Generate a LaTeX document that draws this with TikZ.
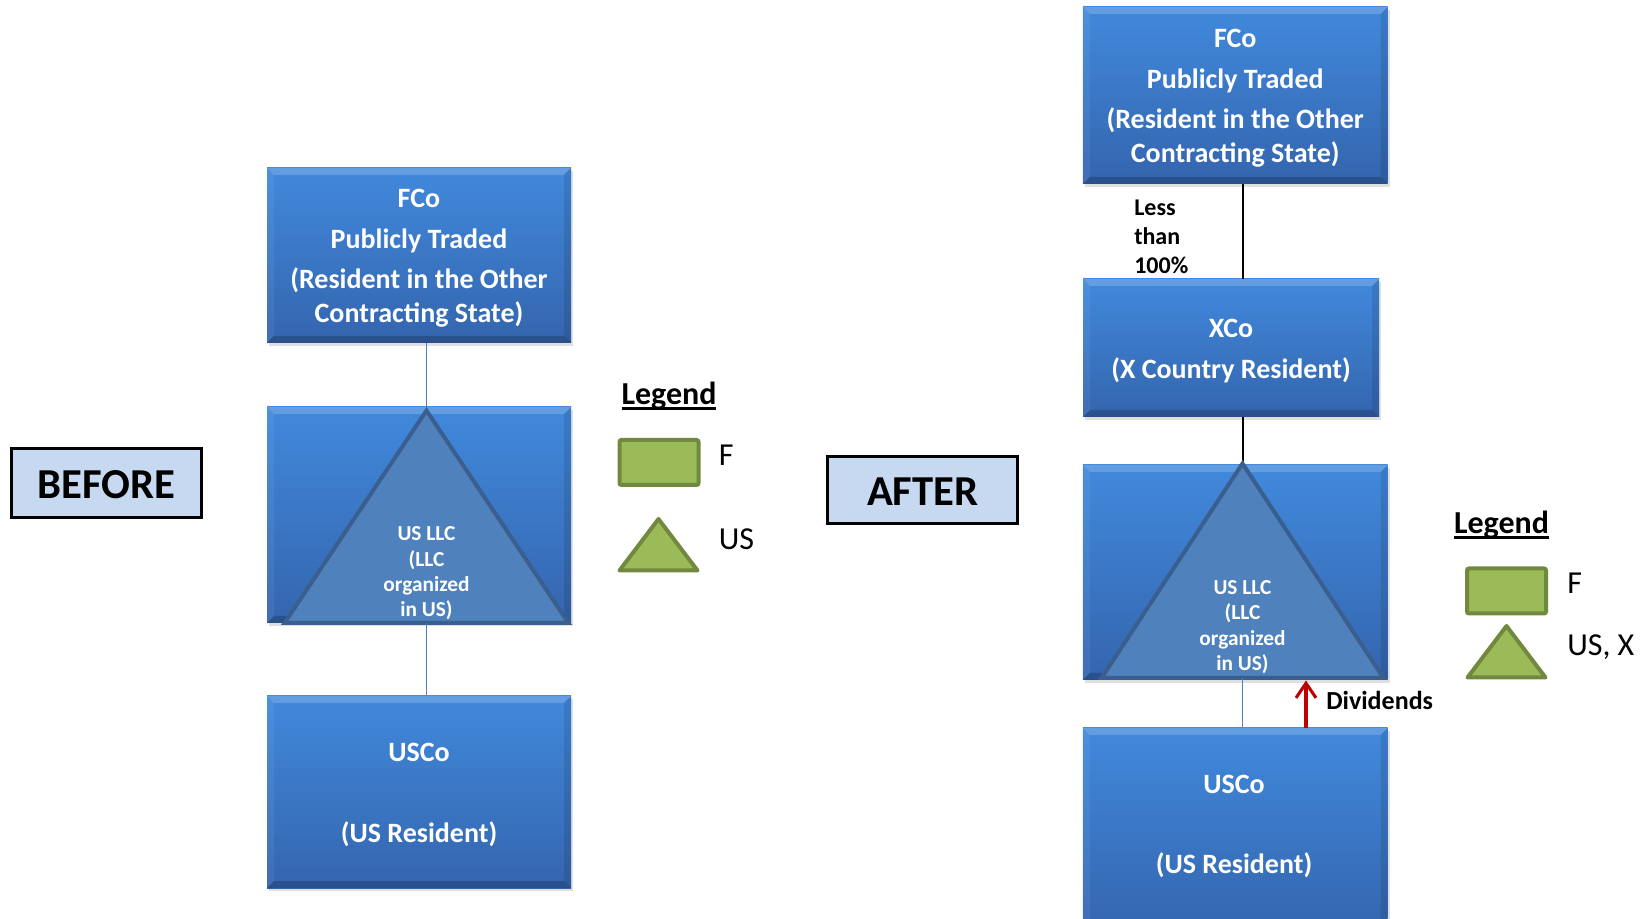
\documentclass[tikz,border=0pt]{standalone}
\usepackage{fontspec}
\setmainfont{Carlito}
\usetikzlibrary{shadows,arrows.meta}

\definecolor{boxtop}{HTML}{4189DC}
\definecolor{boxbot}{HTML}{3465AE}
\definecolor{trifill}{HTML}{4F81BD}
\definecolor{tridraw}{HTML}{3A5F8F}
\definecolor{legfill}{HTML}{9BBB59}
\definecolor{legdraw}{HTML}{71893F}
\definecolor{tagfill}{HTML}{C6D9F1}
\definecolor{divred}{HTML}{C00000}
\definecolor{linkblue}{HTML}{4F81BD}

\newcommand{\bevelw}{5.25pt}
\newcommand{\thickul}[1]{\setbox0=\hbox{#1}\rlap{\rule[-3.8pt]{\wd0}{2pt}}\box0}
% strut that lowers a centred text block by about 2pt
\newcommand{\lowerstrut}{\rule{0pt}{18pt}}

\tikzset{
  entity/.style={rectangle, inner sep=0pt, outer sep=0pt, text=white, align=center,
    font=\bfseries\fontsize{21}{25.5}\selectfont,
    top color=boxtop, bottom color=boxbot,
    drop shadow={opacity=0.25, shadow xshift=1.5pt, shadow yshift=-2pt},
    path picture={
      % top bevel
      \fill[white, opacity=0.18]
        (path picture bounding box.north west) -- (path picture bounding box.north east)
        -- ([shift={(-\bevelw,-\bevelw)}]path picture bounding box.north east)
        -- ([shift={(\bevelw,-\bevelw)}]path picture bounding box.north west) -- cycle;
      % left bevel
      \fill[white, opacity=0.06]
        (path picture bounding box.north west) -- ([shift={(\bevelw,-\bevelw)}]path picture bounding box.north west)
        -- ([shift={(\bevelw,\bevelw)}]path picture bounding box.south west)
        -- (path picture bounding box.south west) -- cycle;
      % right bevel
      \fill[black, opacity=0.10]
        (path picture bounding box.north east) -- ([shift={(-\bevelw,-\bevelw)}]path picture bounding box.north east)
        -- ([shift={(-\bevelw,\bevelw)}]path picture bounding box.south east)
        -- (path picture bounding box.south east) -- cycle;
      % bottom bevel
      \fill[black, opacity=0.20]
        (path picture bounding box.south west) -- (path picture bounding box.south east)
        -- ([shift={(-\bevelw,\bevelw)}]path picture bounding box.south east)
        -- ([shift={(\bevelw,\bevelw)}]path picture bounding box.south west) -- cycle;
    }},
  boxtext/.style={inner sep=0pt, text=white, align=center,
    font=\bfseries\fontsize{21}{25.5}\selectfont},
  bigtri/.style={fill=trifill, draw=tridraw, line width=3pt},
  tritext/.style={inner sep=0pt, text=white, align=center,
    font=\bfseries\fontsize{16}{19}\selectfont},
  tag/.style={rectangle, draw=black, line width=1.9pt, fill=tagfill, inner sep=0pt,
    minimum width=142.5pt, font=\bfseries\fontsize{32}{36}\selectfont},
  bluelink/.style={draw=linkblue, line width=1.1pt},
  blacklink/.style={draw=black, line width=1.5pt},
  divarrow/.style={draw=divred, line width=2.3pt,
    -{Straight Barb[length=11pt,width=15pt,line width=2.3pt]}},
  legtitle/.style={inner sep=0pt, anchor=base, font=\bfseries\fontsize{24}{28}\selectfont},
  legtext/.style={inner sep=0pt, anchor=base west, font=\fontsize{24}{28}\selectfont},
  legrect/.style={rectangle, draw=legdraw, fill=legfill, line width=3pt, rounded corners=1.5pt,
    minimum width=59.25pt, minimum height=33.75pt, inner sep=0pt},
  legtri/.style={draw=legdraw, fill=legfill, line width=3pt, line join=round},
  note/.style={inner sep=0pt, text=black}
}

\begin{document}
\begin{tikzpicture}[x=0.75pt, y=-0.75pt]
\useasboundingbox (0,0) rectangle (1647,919);

% ---------- BEFORE ----------
\node[tag, minimum height=51.75pt, text depth=0pt, text height=23pt] (before) at (106.75,483.25) {BEFORE};

\node[entity, minimum width=228pt, minimum height=131.25pt] (fco1) at (419,255.5)
  {\lowerstrut FCo\\[5.25pt]Publicly Traded\\[4.5pt](Resident in the Other\\Contracting State)};
\node[entity, minimum width=228pt, minimum height=162pt] (llc1) at (419,515) {};
\node[entity, minimum width=228pt, minimum height=144pt] (usco1) at (419,792)
  {\lowerstrut USCo\\[35pt](US Resident)};

\coordinate (apex1) at (426.5,410.5);
\coordinate (base1) at (426.5,623);
\draw[bluelink] (fco1.south -| apex1) -- (apex1);
\filldraw[bigtri] (apex1) -- (568.5,623) -- (284.5,623) -- cycle;
\node[tritext] (llc1-text) at (426.5,573.5) {US LLC\\(LLC\\organized\\in US)};
\draw[bluelink] (base1) -- (usco1.north -| base1);

% legend (before)
\node[legtitle] (leg1) at (669,405) {\thickul{Legend}};
\node[legrect] (legF1) at (659,462.5) {};
\node[legtext] (legF1-text) at (718.5,465.5) {F};
\filldraw[legtri] (658.5,519) -- (697.5,570.5) -- (619.5,570.5) -- cycle;
\node[legtext] (legUS1-text) at (718.5,549.5) {US};

% ---------- AFTER ----------
\node[tag, minimum height=50.6pt, text depth=0pt, text height=23pt] (after) at (922.75,490) {AFTER};

\node[entity, minimum width=228.4pt, minimum height=132.75pt] (fco2) at (1235.25,95.5)
  {\lowerstrut FCo\\[5.25pt]Publicly Traded\\[4.5pt](Resident in the Other\\Contracting State)};
\node[entity, minimum width=222pt, minimum height=103.5pt] (xco2) at (1231,348)
  {\lowerstrut XCo\\[5pt](X Country Resident)};
\node[entity, minimum width=228.4pt, minimum height=161.25pt] (llc2) at (1235.25,572.5) {};
\node[entity, minimum width=228.4pt, minimum height=155.25pt] (usco2) at (1235.25,831.5) {};
\node[boxtext] (usco2-text) at (1234,826.5) {USCo\\[35pt](US Resident)};

\coordinate (apex2) at (1242.5,463.5);
\coordinate (base2) at (1242.5,678);
\draw[blacklink] (fco2.south -| apex2) -- (xco2.north -| apex2);
\draw[blacklink] (xco2.south -| apex2) -- (apex2);
\filldraw[bigtri] (apex2) -- (1383.5,678) -- (1101.5,678) -- cycle;
\node[tritext] (llc2-text) at (1242.5,627) {US LLC\\(LLC\\organized\\in US)};
\draw[bluelink] (base2) -- (usco2.north -| base2);

\node[note, anchor=north west, align=left, font=\bfseries\fontsize{18}{21.75}\selectfont]
  (less) at (1134,200) {Less\\than\\100\%};

\coordinate (divtip) at (1306,680.5);
\draw[divarrow] (usco2.north -| divtip) -- (divtip);
\node[note, anchor=base west, font=\bfseries\fontsize{19.5}{23}\selectfont]
  (div) at (1326,709.5) {Dividends};

% legend (after)
\node[legtitle] (leg2) at (1501.5,533.5) {\thickul{Legend}};
\node[legrect] (legF2) at (1506.5,591) {};
\node[legtext] (legF2-text) at (1567,594) {F};
\filldraw[legtri] (1506.5,626) -- (1545.5,677.5) -- (1467.5,677.5) -- cycle;
\node[legtext] (legUS2-text) at (1567,655.5) {US, X};
\end{tikzpicture}
\end{document}
